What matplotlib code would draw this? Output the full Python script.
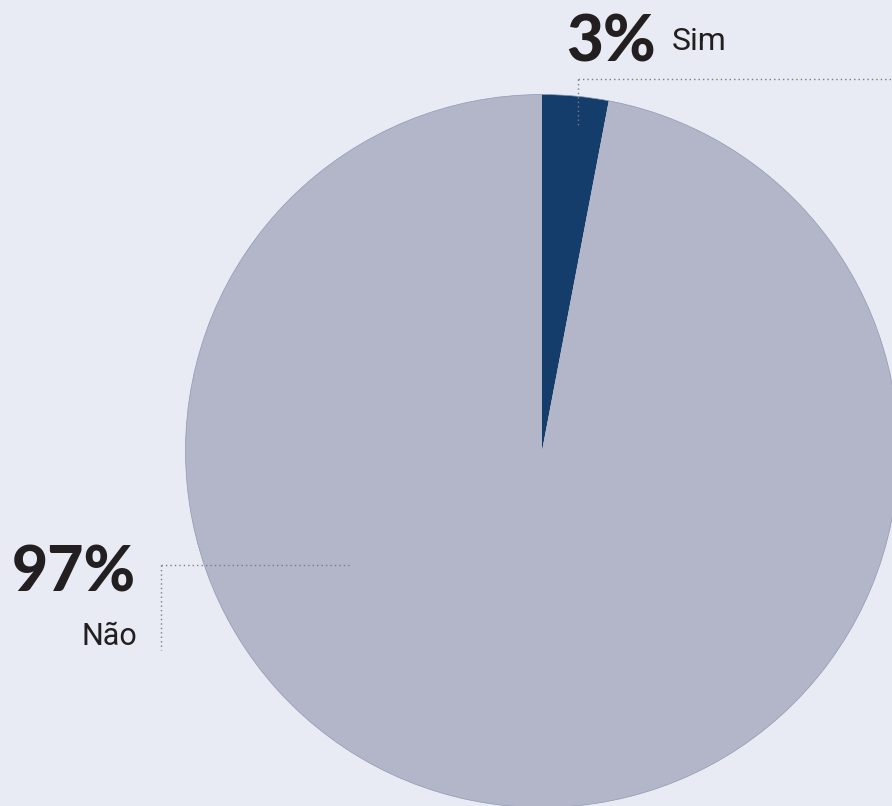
import matplotlib.pyplot as plt
from matplotlib.lines import Line2D
from matplotlib.patches import Circle

# Data
labels = ['Sim', 'Não']
values = [3, 97]
pct_labels = ['3%', '97%']
colors = ['#143d6b', '#b3b5c8']

BG = '#e8ebf3'
TXT = '#231f20'
DOT = '#7d7d7d'

W, H = 892, 806
fig = plt.figure(figsize=(W / 100, H / 100), dpi=100)
fig.patch.set_facecolor(BG)
ax = fig.add_axes([0, 0, 1, 1])
ax.set_facecolor(BG)

# pie centre and radius in pixels
cx, cy, r = 542, 451, 356.5
ax.pie(values, colors=colors, startangle=90, counterclock=False, radius=1,
       wedgeprops=dict(edgecolor='none', linewidth=0))
# thin outline round the pie
ax.add_patch(Circle((0, 0), 1, fill=False, edgecolor='#8e9ab4', linewidth=0.5))
ax.set_aspect('auto')
ax.set_xlim((0 - cx) / r, (W - cx) / r)
ax.set_ylim((cy - H) / r, cy / r)
ax.axis('off')


def fx(px):
    return px / W


def fy(py):
    return 1 - py / H


# Sim label
fig.text(fx(566), fy(62), pct_labels[0], fontsize=46, fontweight='black',
         family='Lato', color=TXT, va='baseline', ha='left')
fig.text(fx(672), fy(50), labels[0], fontsize=23, family='Roboto',
         color=TXT, va='baseline', ha='left')

# Não label
fig.text(fx(136), fy(592), pct_labels[1], fontsize=45, fontweight='black',
         family='Lato', color=TXT, va='baseline', ha='right')
fig.text(fx(137), fy(645), labels[1], fontsize=22, family='Roboto',
         color=TXT, va='baseline', ha='right')

# dotted leader lines
dot_style = dict(color=DOT, linewidth=1.0, linestyle=(0, (1, 2.2)))
for xs, ys in [([578, 892], [79, 79]), ([578, 578], [79, 127]),
               ([161, 350], [565, 565]), ([161, 161], [565, 650])]:
    fig.add_artist(Line2D([fx(x) for x in xs], [fy(y) for y in ys], **dot_style))

fig.savefig('out.png', dpi=100, facecolor=BG)
